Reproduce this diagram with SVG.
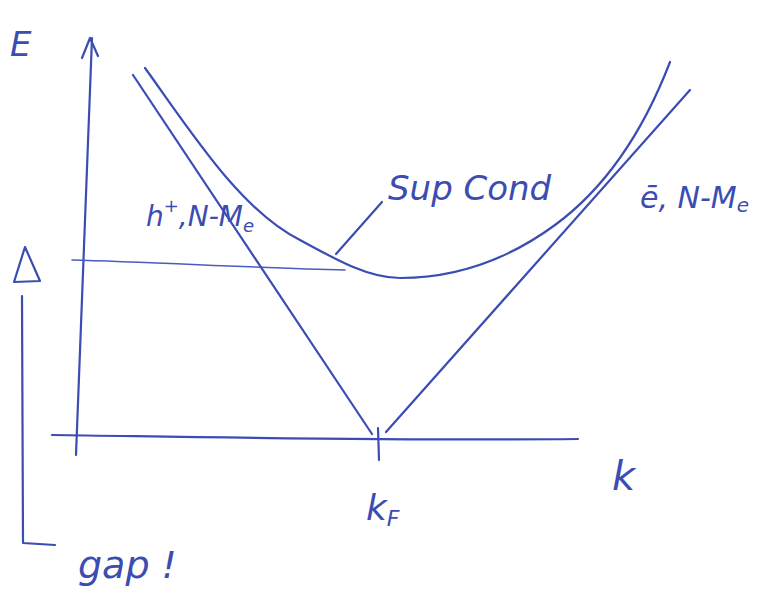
<svg xmlns="http://www.w3.org/2000/svg" width="782" height="600" viewBox="0 0 782 600">
<style>
.ink{fill:none;stroke:#3b4cb2;stroke-width:2.2;stroke-linecap:round;stroke-linejoin:round}
.thin{fill:none;stroke:#4a5cc0;stroke-width:1.6;stroke-linecap:round}
.t{fill:#3b4cb2;font-family:"DejaVu Sans",sans-serif;font-style:oblique}
</style>
<rect width="782" height="600" fill="#ffffff"/>
<g id="axes">
<path class="ink" d="M76,455 L92,38"/>
<path class="ink" d="M82,58 L90,38 L98,56"/>
<path class="ink" d="M52,435 C200,437 400,441 578,439"/>
<path class="ink" d="M378,428 L379,460"/>
<path class="thin" d="M72,260 C150,262 260,268 345,270"/>
</g>
<g id="bands">
<path class="ink" d="M133,75 L372,434"/>
<path class="ink" d="M386,432 L690,90"/>
<path class="ink" d="M145,68 C190,130 240,210 300,240 C340,262 370,278 400,278 C460,278 510,258 555,225 C600,192 640,140 670,62"/>
<path class="ink" d="M382,202 L336,254"/>
</g>
<g id="gap">
<path class="ink" d="M14,282 L25,247 L40,281 Z"/>
<path class="ink" d="M22,296 L23,543 L55,545"/>
</g>
<g id="labels">
<text class="t" x="10" y="56" font-size="34">E</text>
<text class="t" x="388" y="200" font-size="34">Sup Cond</text>
<text class="t" x="146" y="226" font-size="28">h<tspan font-size="18" dy="-14">+</tspan><tspan dy="14">,N-M</tspan><tspan font-size="18" dy="6">e</tspan></text>
<text class="t" x="640" y="208" font-size="30">ē, N-M<tspan font-size="20" dy="4">e</tspan></text>
<text class="t" x="612" y="490" font-size="40">k</text>
<text class="t" x="366" y="520" font-size="36">k<tspan font-size="22" dy="6">F</tspan></text>
<text class="t" x="78" y="578" font-size="38">gap !</text>
</g>
</svg>
